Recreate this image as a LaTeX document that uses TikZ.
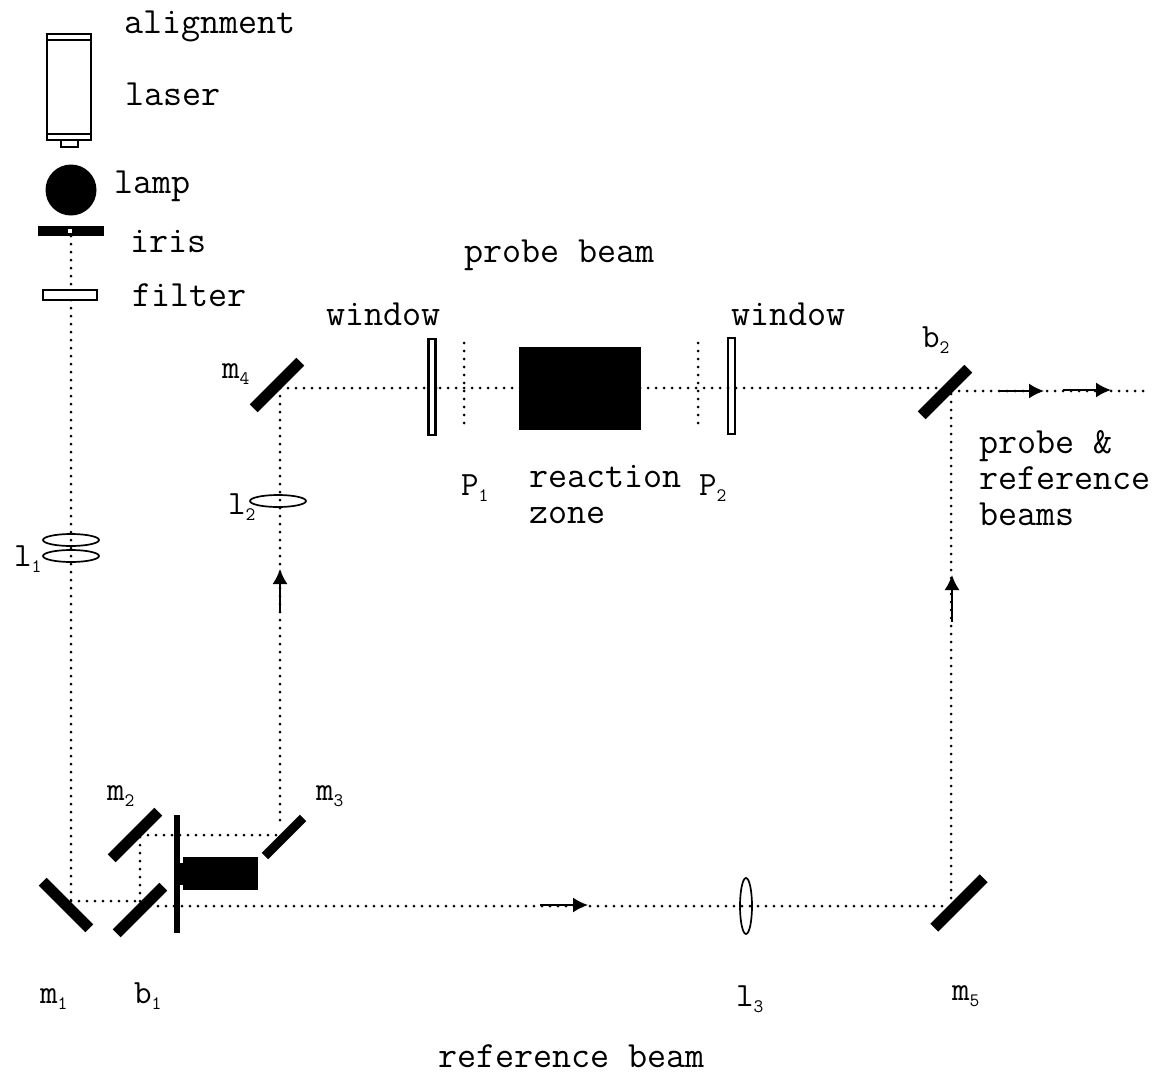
\documentclass[tikz,border=0pt]{standalone}
\usetikzlibrary{arrows.meta}
\newcommand{\sbs}[1]{\raisebox{-6pt}{\fontsize{19}{19}\selectfont\ttfamily #1}}
\tikzset{
  x=1pt,y=-1pt,
  lbl/.style={anchor=base west,inner sep=0pt,outer sep=0pt,font=\ttfamily\fontsize{37}{42}\selectfont,text=black},
  sym/.style={anchor=base west,inner sep=0pt,outer sep=0pt,font=\ttfamily\fontsize{34}{38}\selectfont,text=black},
  mirror/.style={fill=black,draw=none,inner sep=0pt,outer sep=0pt,minimum height=11pt},
  beam/.style={draw=black,line width=3pt,line cap=round,dash pattern=on 0pt off 8pt},
  plate/.style={draw=black,fill=white,line width=2.2pt,inner sep=0pt,outer sep=0pt},
  lens/.style={draw=black,line width=1.7pt},
  solidbox/.style={fill=black,draw=none,inner sep=0pt,outer sep=0pt},
  arr/.style={draw=black,line width=1.8pt,-{Latex[length=15pt,width=15pt]}},
}
\begin{document}
\begin{tikzpicture}
\useasboundingbox (0,0) rectangle (1157,1076);
\fill[white] (0,0) rectangle (1157,1076);

% junctions
\coordinate (jm1) at (71,901);
\coordinate (jb1) at (140,901);
\coordinate (jm2) at (140,835);
\coordinate (jm3) at (280,835);
\coordinate (jm4) at (280,388);
\coordinate (jb2) at (945,388);
\coordinate (jb2o) at (951,391);
\coordinate (jend) at (1143,391);
\coordinate (jb1o) at (150,906);
\coordinate (jm5) at (951,906);
\coordinate (jiris) at (71,236);
\coordinate (jm3o) at (280,820);
\coordinate (p1t) at (464,343);
\coordinate (p1b) at (464,430);
\coordinate (p2t) at (698,343);
\coordinate (p2b) at (698,430);

% beams
\draw[beam] (jiris) -- (jm1);
\draw[beam] (jm1) -- (jb1);
\draw[beam] (jb1) -- (jm2);
\draw[beam] (jm2) -- (jm3);
\draw[beam] (jm3o) -- (jm4);
\draw[beam] (jm4) -- (jb2);
\draw[beam] (jb2o) -- (jend);
\draw[beam] (jb1o) -- (jm5);
\draw[beam] (jm5) -- (jb2o);
\draw[beam] (p1t) -- (p1b);
\draw[beam] (p2t) -- (p2b);

% arrows
\coordinate (a1s) at (280,612); \coordinate (a1e) at (280,569);
\coordinate (a2s) at (540,905); \coordinate (a2e) at (588,905);
\coordinate (a3s) at (952,622); \coordinate (a3e) at (952,575);
\coordinate (a4s) at (1000,391); \coordinate (a4e) at (1044,391);
\coordinate (a5s) at (1063,390); \coordinate (a5e) at (1111,390);
\draw[arr] (a1s) -- (a1e);
\draw[arr] (a2s) -- (a2e);
\draw[arr] (a3s) -- (a3e);
\draw[arr] (a4s) -- (a4e);
\draw[arr] (a5s) -- (a5e);

% laser
\node[draw=black,line width=1.5pt,minimum width=44pt,minimum height=106pt,inner sep=0pt,outer sep=0pt] (laser) at (69,87) {};
\draw[line width=1.3pt] (47,40) -- (91,40);
\draw[line width=1.5pt] (47,134) -- (91,134);
\node[draw=black,line width=1.2pt,minimum width=17pt,minimum height=7pt,inner sep=0pt,outer sep=0pt] (nozzle) at (69.5,143.5) {};
% lamp, iris, filter
\node[circle,fill=black,minimum size=51pt,inner sep=0pt,outer sep=0pt] (lamp) at (71,190) {};
\node[solidbox,minimum width=66pt,minimum height=10pt] (iris) at (71,231) {};
\node[fill=white,minimum size=4.5pt,inner sep=0pt] (hole) at (70,231) {};
\node[plate,line width=1.4pt,minimum width=54pt,minimum height=10pt] (filter) at (70,295) {};
% lenses
\draw[lens] (71,540) ellipse [x radius=28,y radius=6];
\draw[lens] (71,556) ellipse [x radius=28,y radius=6];
\draw[lens] (278,501) ellipse [x radius=28,y radius=6];
\draw[lens] (746,906) ellipse [x radius=6,y radius=28];

% mirrors
\node[mirror,minimum width=66pt,rotate=-45] (m1) at (66,905) {};
\node[mirror,minimum width=66pt,rotate=45] (m2) at (135,835) {};
\node[mirror,minimum width=66pt,rotate=45] (b1) at (140,910) {};
\node[mirror,minimum width=54pt,minimum height=9pt,rotate=45] (m3) at (284,837) {};
\node[mirror,minimum width=66pt,rotate=45] (m4) at (277,385) {};
\node[mirror,minimum width=66pt,rotate=45] (b2) at (945,392) {};
\node[mirror,minimum width=70pt,rotate=45] (m5) at (959,903) {};

% stop and block
\node[solidbox,minimum width=6pt,minimum height=118pt] (stop) at (177,874) {};
\node[solidbox,minimum width=75pt,minimum height=33pt] (block) at (220.5,873.5) {};
\node[solidbox,minimum width=6pt,minimum height=22pt] (neck) at (181,874) {};

% reaction zone, windows
\node[solidbox,minimum width=122pt,minimum height=83pt] (zone) at (580,388.5) {};
\node[plate,minimum width=7pt,minimum height=96pt] (w1) at (432,387) {};
\node[plate,minimum width=7pt,minimum height=96pt] (w2) at (731.5,386) {};
\draw[beam] (428,388) -- (436,388);
\draw[beam] (728,388) -- (735,388);

% labels
\node[lbl] (t1) at (124,33) {alignment};
\node[lbl] (t2) at (125,105) {laser};
\node[lbl] (t3) at (114,193) {lamp};
\node[lbl] (t4) at (130,252) {iris};
\node[lbl] (t5) at (132,306) {filter};
\node[lbl] (t6) at (464,262) {probe beam};
\node[lbl] (t7) at (326,325) {window};
\node[lbl] (t8) at (731,325) {window};
\node[lbl] (t9) at (529,487) {reaction};
\node[lbl] (t10) at (529,523) {zone};
\node[lbl] (t11) at (979,453) {probe \&};
\node[lbl] (t12) at (979,489) {reference};
\node[lbl] (t13) at (979,525) {beams};
\node[lbl] (t14) at (438,1067) {reference beam};

\node[sym] (s1) at (922,347) {b\sbs{2}};
\node[sym] (s2) at (222,378) {m\sbs{4}};
\node[sym] (s3) at (228,514) {l\sbs{2}};
\node[sym] (s4) at (14,566) {l\sbs{1}};
\node[sym] (s5) at (107,800) {m\sbs{2}};
\node[sym] (s6) at (316,800) {m\sbs{3}};
\node[sym] (s7) at (40,1003) {m\sbs{1}};
\node[sym] (s8) at (134,1003) {b\sbs{1}};
\node[sym] (s9) at (736,1006) {l\sbs{3}};
\node[sym] (s10) at (952,1000) {m\sbs{5}};
\node[sym] (s11) at (461,495) {P\sbs{1}};
\node[sym] (s12) at (699,495) {P\sbs{2}};
\end{tikzpicture}
\end{document}
